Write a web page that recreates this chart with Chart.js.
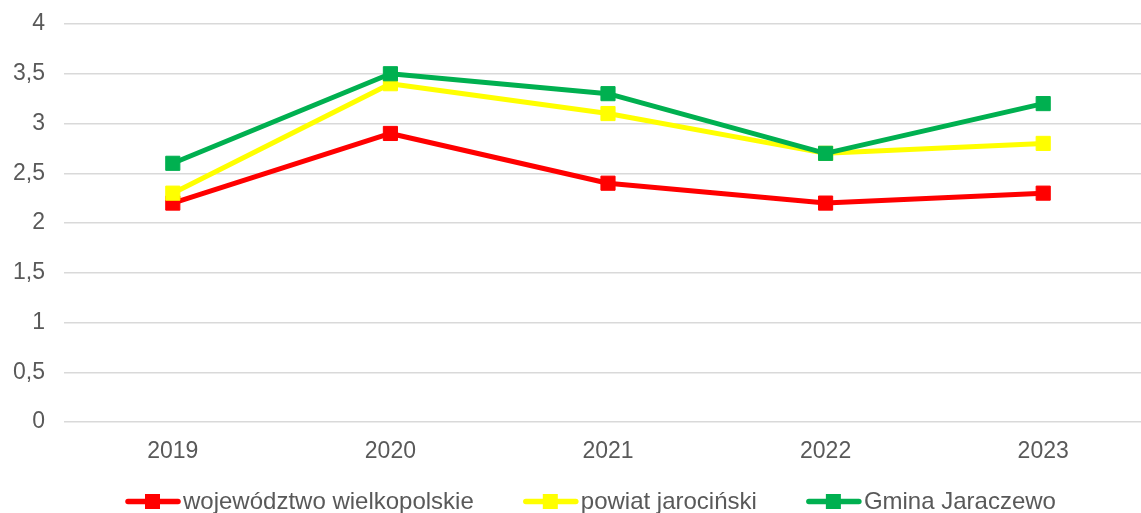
<!DOCTYPE html>
<html>
<head>
<meta charset="utf-8">
<script src="https://cdn.jsdelivr.net/npm/chart.js@4.4.1/dist/chart.umd.min.js"></script>
<style>
    html, body { margin: 0; padding: 0; overflow: hidden; background: #ffffff; }
    #wrap { width: 1152px; height: 513px; }
</style>
</head>
<body>
<div id="wrap"><canvas id="lineChart" width="1152" height="513"></canvas></div>
<script>
const years = ["2019", "2020", "2021", "2022", "2023"];
const wojewodztwo = [2.2, 2.9, 2.4, 2.2, 2.3];
const powiat = [2.3, 3.4, 3.1, 2.7, 2.8];
const gmina = [2.6, 3.5, 3.3, 2.7, 3.2];
const seriesNames = ["województwo wielkopolskie", "powiat jarociński", "Gmina Jaraczewo"];
const seriesColors = ["#FF0000", "#FFFF00", "#00B050"];

const textColor = "#595959";
const fontFamily = "'Liberation Sans', Arial, sans-serif";

function makeDataset(i, values) {
    return {
        label: seriesNames[i],
        data: values,
        borderColor: seriesColors[i],
        backgroundColor: seriesColors[i],
        borderWidth: 5,
        borderCapStyle: "round",
        borderJoinStyle: "round",
        pointStyle: "rect",
        pointRadius: 10,
        pointHoverRadius: 10,
        pointBorderWidth: 1,
        order: 2 - i,
        tension: 0
    };
}

// legend drawn below the plot: line with a square in the middle, then the label
const bottomLegend = {
    id: "bottomLegend",
    afterDraw(chart) {
        const ctx = chart.ctx;
        let x = 125;
        const lineY = 501.5;
        const baseY = 509;
        ctx.save();
        ctx.font = "24px " + fontFamily;
        ctx.textBaseline = "alphabetic";
        ctx.textAlign = "left";
        chart.data.datasets.forEach(function (ds) {
            ctx.strokeStyle = ds.borderColor;
            ctx.lineWidth = 5.5;
            ctx.lineCap = "round";
            ctx.beginPath();
            ctx.moveTo(x + 3, lineY);
            ctx.lineTo(x + 53, lineY);
            ctx.stroke();
            ctx.fillStyle = ds.borderColor;
            ctx.fillRect(x + 20, lineY - 7.5, 15, 15);
            ctx.fillStyle = textColor;
            ctx.fillText(ds.label, x + 58, baseY);
            x += 58 + ctx.measureText(ds.label).width + 49;
        });
        ctx.restore();
    }
};

// the canvas is a bit wider than the window: the plot runs past the right edge like the original crop
const chart = new Chart(document.getElementById("lineChart"), {
    type: "line",
    data: {
        labels: years,
        datasets: [makeDataset(0, wojewodztwo), makeDataset(1, powiat), makeDataset(2, gmina)]
    },
    options: {
        responsive: false,
        animation: false,
        layout: { autoPadding: false, padding: { top: 24, left: 0, right: 0, bottom: 0 } },
        plugins: {
            legend: { display: false },
            tooltip: { enabled: false }
        },
        scales: {
            x: {
                offset: true,
                grid: { display: false, drawTicks: false },
                border: { display: false },
                ticks: {
                    color: textColor,
                    font: { family: fontFamily, size: 23 },
                    padding: 16,
                    maxRotation: 0
                },
                afterFit: function (scale) {
                    scale.height = 91;
                    scale.paddingLeft = 0;
                    scale.paddingRight = 0;
                }
            },
            y: {
                min: 0,
                max: 4,
                grid: { color: "#D9D9D9", lineWidth: 1.5, drawTicks: false },
                border: { display: false },
                ticks: {
                    stepSize: 0.5,
                    color: textColor,
                    font: { family: fontFamily, size: 23 },
                    padding: 19,
                    callback: function (v) { return String(v).replace(".", ","); }
                },
                afterFit: function (scale) {
                    scale.width = 64;
                    scale.paddingTop = 0;
                    scale.paddingBottom = 0;
                }
            }
        }
    },
    plugins: [bottomLegend]
});
</script>
</body>
</html>
